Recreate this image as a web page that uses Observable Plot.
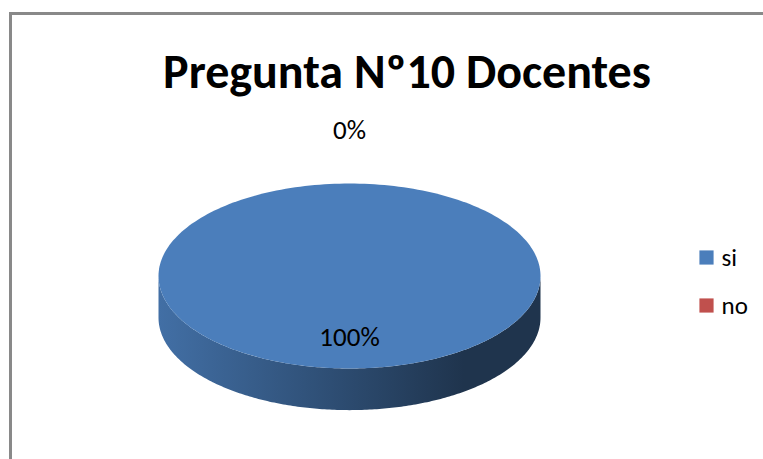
<!DOCTYPE html>
<html><head><meta charset="utf-8">
<script src="https://cdn.jsdelivr.net/npm/d3@7"></script>
<script src="https://cdn.jsdelivr.net/npm/@observablehq/plot@0.6"></script>
<style>
body{margin:0;background:#fff;}
#wrap{position:relative;width:763px;height:459px;overflow:hidden;}
#frame{position:absolute;left:9px;top:12px;width:800px;height:500px;border-left:3px solid #898989;border-top:3px solid #898989;pointer-events:none;}
</style></head><body><div id="wrap"><div id="chart"></div><div id="frame"></div></div>
<script>
const title = "Pregunta Nº10 Docentes";
const categories = ["si", "no"];
const values = [100, 0];
const colors = ["#4B7EBB", "#C0504D"];

const FONT = "Carlito, Lato, sans-serif";
const total = d3.sum(values);
const arcs = d3.pie().sort(null).startAngle(0).endAngle(2 * Math.PI)(values);
const depth = 0.45;
const N = 240;
// angle clockwise from 12 o'clock -> unit ellipse coordinates
const pt = (a, r = 1, off = 0) => ({x: r * Math.sin(a), y: r * Math.cos(a) + off});

const marks = [];
// gradient defs for the side walls
marks.push(() => {
  const defs = d3.create("svg:defs");
  categories.forEach((c, i) => {
    const base = d3.color(colors[i]);
    const g = defs.append("linearGradient").attr("id", "side-" + i).attr("x1", "0").attr("x2", "1").attr("y1", "0").attr("y2", "0");
    [[0, 0.35], [0.45, 1.35], [0.8, 2.5], [1, 2.5]].forEach(([o, k]) => {
      g.append("stop").attr("offset", o).attr("stop-color", base.darker(k).formatHex());
    });
  });
  return defs.node();
});

// side walls (front half: angles from pi/2 to 3pi/2)
arcs.forEach((arc, i) => {
  const a0 = Math.max(arc.startAngle, Math.PI / 2), a1 = Math.min(arc.endAngle, 3 * Math.PI / 2);
  if (a1 <= a0) return;
  const pts = [];
  for (let k = 0; k <= N; k++) pts.push(pt(a0 + (a1 - a0) * k / N));
  for (let k = N; k >= 0; k--) pts.push(pt(a0 + (a1 - a0) * k / N, 1, -depth));
  marks.push(Plot.line(pts, {x: "x", y: "y", curve: "linear-closed", fill: `url(#side-${i})`, stroke: "none"}));
});

// top faces
arcs.forEach((arc, i) => {
  const span = arc.endAngle - arc.startAngle;
  if (span <= 0) return;
  const full = span >= 2 * Math.PI - 1e-9;
  const pts = full ? [] : [{x: 0, y: 0}];
  for (let k = 0; k <= N; k++) pts.push(pt(arc.startAngle + span * k / N));
  marks.push(Plot.line(pts, {x: "x", y: "y", curve: "linear-closed", fill: colors[i], stroke: "none"}));
});

// data labels
const labelData = arcs.map((arc, i) => {
  const mid = (arc.startAngle + arc.endAngle) / 2;
  const r = values[i] > 0 ? 0.66 : 1.57;
  return {...pt(mid, r), label: d3.format(".0%")(values[i] / total)};
});
marks.push(Plot.text(labelData, {x: "x", y: "y", text: "label", fontSize: 27, fontFamily: FONT, fill: "#000"}));

// title
marks.push(Plot.text([title], {frameAnchor: "top", dx: 25, dy: 72, lineAnchor: "middle", fontSize: 48, fontWeight: "bold", fontFamily: FONT, fill: "#000"}));

// legend
categories.forEach((c, i) => {
  marks.push(Plot.dot([c], {frameAnchor: "top-left", dx: 706, dy: 257 + i * 48, symbol: "square", r: 8, fill: colors[i], stroke: "none"}));
  marks.push(Plot.text([c], {frameAnchor: "top-left", dx: 721, dy: 257 + i * 48, text: d => d, textAnchor: "start", lineAnchor: "middle", fontSize: 25, fontFamily: FONT, fill: "#000"}));
});

const chart = Plot.plot({
  width: 763, height: 459,
  margin: 0,
  x: {domain: [-1, 1], range: [158, 540], axis: null},
  y: {domain: [-1, 1], range: [368, 183], axis: null},
  style: {background: "transparent"},
  marks
});
document.getElementById("chart").appendChild(chart);
</script>
</body></html>
